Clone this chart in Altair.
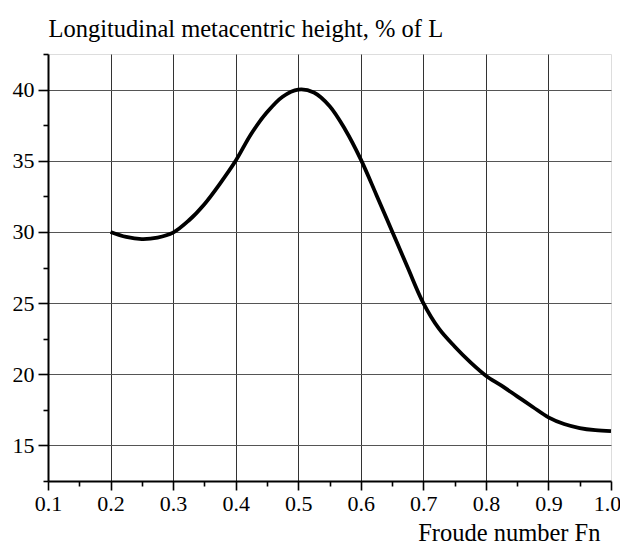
import altair as alt
import pandas as pd

# Froude number and longitudinal metacentric height (% of L)
froude = [0.2, 0.225, 0.25, 0.275, 0.3, 0.325, 0.35, 0.375, 0.4, 0.425, 0.45, 0.475,
          0.5, 0.525, 0.55, 0.575, 0.6, 0.625, 0.65, 0.675, 0.7, 0.725, 0.75, 0.775,
          0.8, 0.825, 0.85, 0.875, 0.9, 0.925, 0.95, 0.975, 1.0]
gm_long = [30.0, 29.65, 29.5, 29.6, 29.95, 30.8, 31.95, 33.4, 35.0, 36.9, 38.4, 39.5,
           40.0, 39.8, 38.85, 37.2, 35.1, 32.6, 30.05, 27.5, 25.0, 23.2, 21.95, 20.85,
           19.9, 19.2, 18.45, 17.7, 16.97, 16.5, 16.22, 16.07, 16.0]

# tick values (major and minor)
x_ticks = [0.1, 0.15, 0.2, 0.25, 0.3, 0.35, 0.4, 0.45, 0.5, 0.55, 0.6, 0.65,
           0.7, 0.75, 0.8, 0.85, 0.9, 0.95, 1.0]
y_ticks = [12.5, 15, 17.5, 20, 22.5, 25, 27.5, 30, 32.5, 35, 37.5, 40, 42.5]

x_title = "Froude number Fn"
y_title = "Longitudinal metacentric height, % of L"

df = pd.DataFrame({"fn": froude, "gm": gm_long})

FONT = "Liberation Serif"
x_minor = "abs(datum.value*10 - round(datum.value*10)) > 0.01"
y_minor = "abs(datum.value/5 - round(datum.value/5)) > 0.01"

x_axis = alt.Axis(
    values=x_ticks,
    labelExpr=f"({x_minor}) ? '' : format(datum.value, '.1f')",
    tickSize={"condition": {"test": x_minor, "value": 5}, "value": 9},
    gridOpacity={"condition": {"test": f"({x_minor}) || datum.value < 0.15 || datum.value > 0.95", "value": 0}, "value": 1},
    labelOffset={"condition": {"test": "datum.value > 0.95", "value": -4}, "value": 0},
    grid=True, gridColor="#333333", gridWidth=1,
    domainColor="black", domainWidth=2, tickColor="black", tickWidth=1.6,
    labelFont=FONT, labelFontSize=22, labelColor="black", labelPadding=3,
    labelOverlap=False, labelFlush=False, labelBound=False,
    title=x_title, titleFont=FONT, titleFontSize=24.5, titleFontWeight="normal",
    titleColor="black", titleX=552, titleY=59, titleAlign="right",
    titleBaseline="alphabetic", titleAnchor="end",
)

y_axis = alt.Axis(
    values=y_ticks,
    labelExpr=f"({y_minor}) ? '' : format(datum.value, 'd')",
    tickSize={"condition": {"test": y_minor, "value": 5}, "value": 10},
    gridOpacity={"condition": {"test": y_minor, "value": 0}, "value": 1},
    grid=True, gridColor="#555555", gridWidth=1,
    domainColor="black", domainWidth=2, tickColor="black", tickWidth=1.6,
    labelFont=FONT, labelFontSize=22, labelColor="black", labelPadding=4,
    labelOverlap=False, labelFlush=False, labelBaseline="middle",
    title=y_title, titleFont=FONT, titleFontSize=24.5, titleFontWeight="normal",
    titleColor="black", titleAngle=0, titleX=0, titleY=-18, titleAlign="left",
    titleBaseline="alphabetic", titleAnchor="start",
)

chart = alt.Chart(df).mark_line(
    color="black", strokeWidth=3.8, interpolate="catmull-rom"
).encode(
    x=alt.X("fn:Q", scale=alt.Scale(domain=[0.1, 1.0], nice=False, zero=False), axis=x_axis),
    y=alt.Y("gm:Q", scale=alt.Scale(domain=[12.5, 42.5], nice=False, zero=False), axis=y_axis),
).properties(
    width=563,
    height=427,
    autosize=alt.AutoSizeParams(type="none"),
    padding={"left": 40, "top": 46, "right": 9, "bottom": 64},
).configure_view(stroke=None).configure(background="white", font=FONT)

chart.save("out.html", embed_options={"renderer": "svg", "actions": False})
